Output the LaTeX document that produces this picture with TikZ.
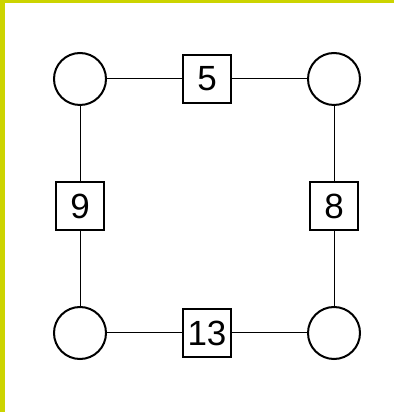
\documentclass[tikz,border=0pt]{standalone}
\usepackage{xcolor}
\usepackage{fontspec}
\setmainfont{Liberation Sans}
\usepackage{tikz}
\definecolor{frameyellow}{RGB}{204,212,0}

\begin{document}
\begin{tikzpicture}[x=1pt, y=1pt, node distance=127pt]
            \tikzset{
                corner_node/.style={draw, shape = circle, line width=2pt, minimum size=52pt, inner sep=0pt},
                weight_box/.style={draw, shape = rectangle, line width=1.6pt, minimum size=48pt, inner sep=0pt, font=\fontsize{35}{35}\selectfont},
                every edge/.style={draw, line width=1pt}
            }
            \useasboundingbox (0,0) rectangle (394,412);
            \fill[frameyellow] (0,0) rectangle (5,412);
            \fill[frameyellow] (0,409) rectangle (394,412);
            \node[corner_node] (TL) at (80,333) {};
            \node[weight_box] (W5) [right of= TL] {5};
            \node[corner_node] (TR) [right of= W5] {};
            \node[weight_box] (W9) [below of= TL] {9};
            \node[corner_node] (BL) [below of= W9] {};
            \node[weight_box] (W13) [right of= BL] {13};
            \node[corner_node] (BR) [right of= W13] {};
            \node[weight_box] (W8) [below of= TR] {8};
            \path (TL) edge              node {} (W5);
            \path (W5) edge              node {} (TR);
            \path (TL) edge              node {} (W9);
            \path (W9) edge              node {} (BL);
            \path (BL) edge              node {} (W13);
            \path (W13) edge              node {} (BR);
            \path (TR) edge              node {} (W8);
            \path (W8) edge              node {} (BR);
        \end{tikzpicture}
\end{document}
